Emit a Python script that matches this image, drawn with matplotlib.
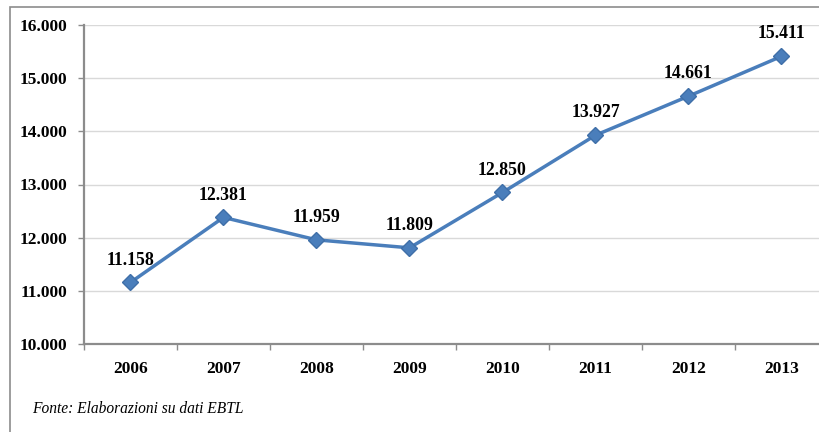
import matplotlib
matplotlib.use("Agg")
import matplotlib.pyplot as plt
from matplotlib.patches import Rectangle

years = ["2006", "2007", "2008", "2009", "2010", "2011", "2012", "2013"]
values = [11158, 12381, 11959, 11809, 12850, 13927, 14661, 15411]
yticks = [10000, 11000, 12000, 13000, 14000, 15000, 16000]
source_note = "Fonte: Elaborazioni su dati EBTL"

plt.rcParams['font.family'] = ['Liberation Serif', 'DejaVu Serif']

def fmt(v):
    # thousands with a dot, italian style
    return "{:,}".format(v).replace(",", ".")

fig = plt.figure(figsize=(8.2, 4.32), dpi=100)
ax = fig.add_axes([84 / 820, 88 / 432, 744 / 820, 319 / 432])

# outer frame round the whole chart
fig.patches.append(Rectangle((10 / 820, -0.1), 1.2, (432 - 7) / 432 + 0.1,
                             transform=fig.transFigure, fill=False,
                             edgecolor="#8c8c8c", linewidth=1.2, clip_on=False))

x = list(range(len(years)))
ax.plot(x, values, color="#4a7ebb", linewidth=2.5, marker="D", markersize=8.5,
        markerfacecolor="#4a7ebb", markeredgecolor="#3f6fa8", zorder=3)

for xi, v in zip(x, values):
    ax.annotate(fmt(v), (xi, v), xytext=(0, 10), textcoords="offset points",
                ha="center", va="bottom", fontsize=12.8, fontweight="bold")

ax.set_xlim(-0.5, len(years) - 0.5)
ax.set_ylim(10000, 16000)
ax.set_yticks(yticks)
ax.set_yticklabels([fmt(t) for t in yticks], fontsize=12.5, fontweight="bold")
ax.set_xticks(x)
ax.set_xticklabels(years, fontsize=12.5, fontweight="bold")
ax.set_xticks([i - 0.5 for i in range(len(years) + 1)], minor=True)
ax.tick_params(axis="x", which="major", length=0, pad=12)
ax.tick_params(axis="x", which="minor", length=4, color="#8c8c8c", width=1)
ax.tick_params(axis="y", length=4, color="#8c8c8c", width=1, pad=8)

ax.grid(axis="y", color="#d9d9d9", linewidth=1)
ax.set_axisbelow(True)
for side in ["top", "right"]:
    ax.spines[side].set_visible(False)
for side in ["left", "bottom"]:
    ax.spines[side].set_color("#8c8c8c")
    ax.spines[side].set_linewidth(1.6)

fig.text(32 / 820, 23 / 432, source_note, fontsize=11.2, style="italic", va="center")

fig.savefig("out.png", dpi=100)
